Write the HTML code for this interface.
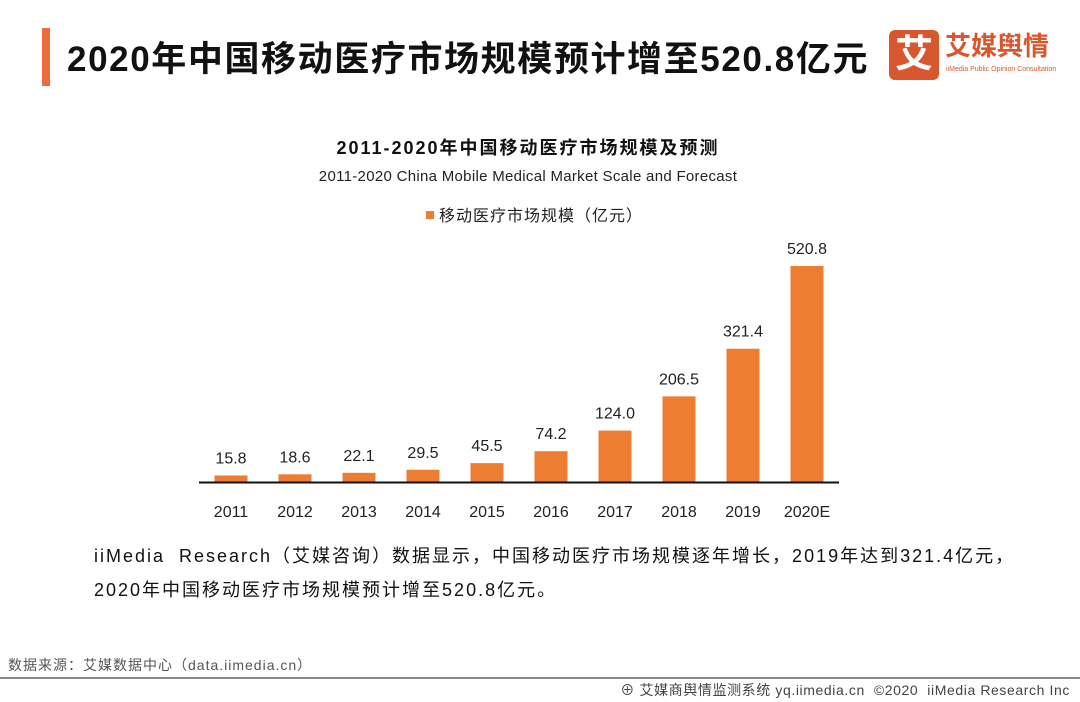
<!DOCTYPE html>
<html><head><meta charset="utf-8"><style>
body{margin:0;width:1080px;height:702px;background:#fff;font-family:"Liberation Sans","Noto Sans CJK SC",sans-serif;position:relative;overflow:hidden}
.a{position:absolute;white-space:nowrap}
</style></head><body>
<div class="a" style="left:42px;top:28px;width:8px;height:58px;background:#ee6b3b"></div>
<div class="a" style="left:67px;top:31px;font-size:35px;letter-spacing:1.6px;font-weight:bold;color:#111">2020年中国移动医疗市场规模预计增至520.8亿元</div>
<div class="a" style="left:889px;top:30px;width:170px;height:50px">
 <div class="a" style="left:0;top:0;width:50px;height:50px;background:#d9572f;border-radius:6px;color:#fff;font-size:38px;font-weight:bold;text-align:center;line-height:50px">艾</div>
 <div class="a" style="left:56px;top:0;font-size:26px;font-weight:bold;color:#d9572f;line-height:32px">艾媒舆情</div>
 <div class="a" style="left:57px;top:36px;font-size:7px;color:#d9572f">iiMedia Public Opinion Consultation</div>
</div>
<div class="a" style="left:0;width:1056px;text-align:center;top:134px;font-size:18px;letter-spacing:2px;font-weight:bold;color:#111">2011-2020年中国移动医疗市场规模及预测</div>
<div class="a" style="left:0;width:1056px;text-align:center;top:168px;font-size:15px;letter-spacing:0.3px;color:#222">2011-2020 China Mobile Medical Market Scale and Forecast</div>
<div class="a" style="left:426px;top:202px;font-size:16px;letter-spacing:1px;color:#222"><span style="display:inline-block;width:8px;height:8px;background:#ed7d31;margin-right:5px;vertical-align:2px"></span>移动医疗市场规模（亿元）</div>
<svg class="a" style="left:0;top:0" width="1080" height="702" id="chart"></svg>
<div class="a" style="left:94px;top:539px;font-size:18px;letter-spacing:2px;color:#111;line-height:34px">iiMedia&nbsp; Research（艾媒咨询）数据显示，中国移动医疗市场规模逐年增长，2019年达到321.4亿元，<br>2020年中国移动医疗市场规模预计增至520.8亿元。</div>
<div class="a" style="left:8px;top:655px;font-size:14px;letter-spacing:1px;color:#555">数据来源：艾媒数据中心（data.iimedia.cn）</div>
<div class="a" style="left:0;top:677px;width:1080px;height:2px;background:#888"></div>
<div class="a" style="right:10px;top:680px;font-size:14px;letter-spacing:0.6px;color:#444">⊕ 艾媒商舆情监测系统 yq.iimedia.cn &nbsp;©2020&nbsp; iiMedia Research Inc</div>
<script>
const categories=["2011","2012","2013","2014","2015","2016","2017","2018","2019","2020E"];
const values=[15.8,18.6,22.1,29.5,45.5,74.2,124.0,206.5,321.4,520.8];
const labels=["15.8","18.6","22.1","29.5","45.5","74.2","124.0","206.5","321.4","520.8"];
const svg=document.getElementById('chart');const NS="http://www.w3.org/2000/svg";
const base=482,scale=216/520.8,x0=199,step=64;
const y=v=>base-v*scale, xc=i=>x0+step*(i+0.5);
function mk(t,a){const e=document.createElementNS(NS,t);for(const k in a)e.setAttribute(k,a[k]);svg.appendChild(e);return e;}
categories.forEach((c,i)=>{
 const r=mk('rect',{x:xc(i)-16.5,y:y(values[i]),width:33,height:base-y(values[i]),fill:'#ed7d31'});
 
 
 const t=mk('text',{x:xc(i),y:y(values[i])-12,'text-anchor':'middle','font-size':'16',fill:'#222','font-family':'Liberation Sans, sans-serif'});t.textContent=labels[i];
 
 
 const l=mk('text',{x:xc(i),y:517,'text-anchor':'middle','font-size':'16',fill:'#222','font-family':'Liberation Sans, sans-serif'});l.textContent=c;
 
 
});
const ax=mk('line',{x1:x0,x2:x0+step*categories.length,y1:base+0.5,y2:base+0.5,stroke:'#111','stroke-width':2});


</script>
</body></html>
